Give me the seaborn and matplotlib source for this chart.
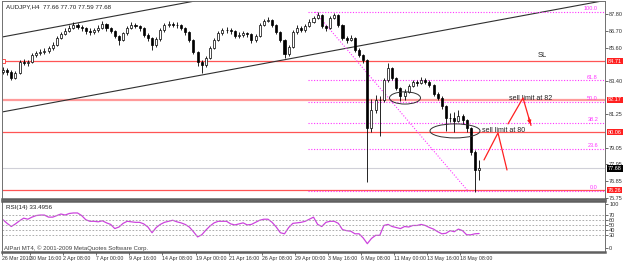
import matplotlib
matplotlib.use("Agg")
import matplotlib.pyplot as plt
import matplotlib.transforms as mtransforms
from matplotlib.patches import Ellipse
import numpy as np
import pandas as pd
import seaborn as sns

# ---------------- data (AUDJPY H4) ----------------
first_open = 84.00
close = [84.13, 84.00, 83.61, 83.94, 84.66, 84.59, 84.66, 85.11, 85.25, 85.31,
         85.38, 85.57, 85.77, 86.23, 86.49, 86.69, 86.88, 87.08, 86.95, 86.88,
         86.69, 86.62, 86.75, 86.88, 87.15, 86.88, 86.69, 86.36, 86.10, 86.56,
         86.88, 87.08, 87.01, 86.88, 86.42, 86.23, 85.77, 86.16, 86.75, 87.08,
         87.15, 87.08, 87.08, 86.88, 86.62, 86.10, 85.31, 84.66, 84.46, 84.92,
         85.57, 86.10, 86.56, 86.75, 86.75, 86.69, 86.36, 86.42, 86.56, 86.49,
         86.10, 86.36, 87.08, 87.34, 87.41, 87.08, 86.62, 86.10, 85.18, 85.64,
         86.62, 86.88, 86.75, 87.01, 87.28, 87.54, 87.73, 87.01, 86.88, 87.54,
         87.73, 87.08, 86.23, 86.10, 86.23, 85.44, 85.11, 84.79, 80.33, 81.51,
         82.17, 82.17, 83.48, 84.26, 83.61, 82.95, 82.43, 82.69, 83.08, 83.35,
         83.28, 83.48, 83.35, 83.15, 82.56, 82.30, 81.77, 80.99, 80.99, 80.79,
         81.12, 80.86, 80.33, 78.76, 77.58, 77.68]
high = [84.30, 84.25, 84.10, 84.05, 84.80, 84.85, 84.80, 85.25, 85.40, 85.50,
        85.55, 85.70, 85.95, 86.35, 86.65, 86.85, 87.05, 87.25, 87.20, 87.10,
        86.95, 86.85, 86.90, 87.05, 87.35, 87.20, 86.95, 86.75, 86.45, 86.65,
        87.00, 87.25, 87.20, 87.10, 86.95, 86.55, 86.30, 86.30, 86.85, 87.20,
        87.35, 87.30, 87.25, 87.15, 86.95, 86.70, 86.15, 85.40, 84.80, 85.05,
        85.70, 86.25, 86.70, 86.90, 86.95, 86.85, 86.75, 86.60, 86.70, 86.65,
        86.55, 86.50, 87.20, 87.50, 87.60, 87.50, 87.15, 86.70, 86.15, 85.80,
        86.75, 87.05, 87.00, 87.15, 87.45, 87.70, 87.93, 87.80, 87.10, 87.65,
        87.87, 87.80, 87.15, 86.35, 86.40, 86.30, 85.55, 85.20, 84.85, 82.20,
        82.50, 82.40, 83.60, 84.59, 84.30, 83.65, 83.00, 82.90, 83.20, 83.50,
        83.45, 83.65, 83.60, 83.45, 83.20, 82.70, 82.40, 81.85, 81.30, 81.40,
        81.51, 81.25, 80.95, 80.40, 78.90, 78.24]
low = [83.85, 83.80, 83.48, 83.52, 83.88, 84.45, 84.40, 84.60, 85.00, 85.10,
       85.15, 85.25, 85.45, 85.70, 86.15, 86.40, 86.60, 86.80, 86.80, 86.70,
       86.50, 86.45, 86.50, 86.65, 86.80, 86.70, 86.55, 86.20, 85.80, 86.00,
       86.45, 86.80, 86.85, 86.70, 86.30, 86.05, 85.44, 85.65, 86.05, 86.65,
       86.95, 86.95, 86.90, 86.75, 86.45, 85.95, 85.15, 84.40, 83.94, 84.35,
       84.85, 85.50, 86.00, 86.45, 86.55, 86.50, 86.20, 86.25, 86.30, 86.30,
       85.90, 85.95, 86.30, 87.00, 87.25, 86.95, 86.50, 85.95, 84.92, 85.05,
       85.55, 86.50, 86.60, 86.65, 86.95, 87.20, 87.45, 86.90, 86.70, 86.80,
       87.45, 86.95, 86.10, 85.90, 86.00, 85.30, 84.95, 84.60, 76.80, 80.10,
       81.30, 79.80, 82.05, 83.35, 83.50, 82.85, 82.10, 82.17, 82.60, 83.00,
       83.10, 83.20, 83.20, 83.00, 82.45, 82.15, 81.60, 80.14, 80.70, 80.10,
       80.70, 80.60, 80.10, 78.55, 76.14, 76.93]
rsi = [60, 53, 47, 52, 58, 63, 61, 65, 68, 69, 69, 65, 65, 68, 71, 69, 72, 73,
       73, 68, 60, 57, 57, 56, 58, 54, 51, 43, 46, 53, 57, 56, 55, 55, 52, 46,
       35, 45, 51, 55, 57, 59, 56, 54, 51, 46, 37, 27, 31, 40, 48, 54, 57, 57,
       57, 52, 50, 52, 54, 50, 51, 55, 59, 61, 61, 55, 46, 35, 33, 45, 53, 54,
       55, 57, 61, 65, 51, 47, 55, 57, 57, 53, 41, 39, 38, 33, 33, 25, 14, 24,
       30, 30, 49, 51, 47, 45, 43, 47, 46, 49, 49, 51, 49, 45, 42, 37, 33, 34,
       39, 37, 42, 39, 31, 31, 33, 33.5]

date_labels = ["26 Mar 2010", "30 Mar 16:00", "2 Apr 08:00", "7 Apr 00:00",
               "9 Apr 16:00", "14 Apr 08:00", "19 Apr 00:00", "21 Apr 16:00",
               "26 Apr 08:00", "29 Apr 00:00", "3 May 16:00", "6 May 08:00",
               "11 May 00:00", "13 May 16:00", "18 May 08:00"]
price_ticks = [87.80, 86.70, 85.60, 83.40, 81.25, 79.05, 77.95, 76.85, 75.75]
red_levels = [84.71, 82.17, 80.06, 76.26]
bid = 77.68
fib_high, fib_low = 87.93, 76.20
fib_ratios = [1.0, 0.618, 0.5, 0.382, 0.236, 0.0]
rsi_levels = [70, 60, 50, 40, 30]

# ---------------- frame ----------------
n = len(close)
idx = np.arange(n)
opn = [first_open] + close[:-1]
df = pd.DataFrame({"i": idx, "open": opn, "high": high, "low": low,
                   "close": close, "rsi": rsi})

sns.set_theme(style="white")
plt.rcParams["font.family"] = ["Liberation Sans", "DejaVu Sans"]

W, H = 625, 263
fig = plt.figure(figsize=(W / 100, H / 100), dpi=100)
fig.patch.set_facecolor("white")
ax = fig.add_axes([2 / W, 1 - 199 / H, 603 / W, 198 / H])
ax2 = fig.add_axes([2 / W, 1 - 252 / H, 603 / W, 51 / H], sharex=ax)

PX = 4.14  # px per bar
xmin = -1 / PX
xmax = 602 / PX
ax.set_xlim(xmin, xmax)
ax.set_ylim(75.68, 88.65)

def px2i(p):
    return (p - 3) / PX

FS = 4.0

# channel lines
ax.axline((px2i(2), 81.38), (px2i(597), 88.59), color="#303030", lw=0.8, zorder=2)
ax.axline((px2i(2), 86.29), (px2i(190), 88.59), color="#303030", lw=0.8, zorder=2)

# red horizontal levels
for lv in red_levels:
    lw = 1.6 if lv == 82.17 else 0.9
    col = "#FF9A9A" if lv == 82.17 else "#FF5555"
    ax.axhline(lv, color=col, lw=lw, zorder=1)
ax.axhline(bid, color="#D0D0D8", lw=0.8, zorder=1)
ax.plot([px2i(3)], [84.71], marker="s", ms=2.5, mfc="white", mec="#FF3333", mew=0.6)

# fibonacci
fx0 = px2i(308)
for r in fib_ratios:
    lv = fib_low + r * (fib_high - fib_low)
    ax.plot([fx0, xmax], [lv, lv], color="#FF33FF", lw=0.8, ls=(0, (1, 1.5)), zorder=2)
    ax.text(px2i(598), lv + 0.05, f"{r*100:.1f}", color="#FF33FF", fontsize=FS,
            ha="right", va="bottom", zorder=5)
ax.plot([px2i(315), px2i(468)], [fib_high, fib_low], color="#FF33FF", lw=0.8,
        ls=(0, (1, 1.5)), zorder=2)

# candles
up = df["close"] >= df["open"]
ax.vlines(df["i"], df["low"], df["high"], color="black", lw=0.6, zorder=3)
body_lo = np.minimum(df["open"], df["close"])
body_h = np.maximum(np.abs(df["close"] - df["open"]), 0.02)
ax.bar(df["i"][up], body_h[up], bottom=body_lo[up], width=0.5,
       color="white", edgecolor="black", lw=0.5, zorder=4)
ax.bar(df["i"][~up], body_h[~up], bottom=body_lo[~up], width=0.5,
       color="black", edgecolor="black", lw=0.5, zorder=4)

# ellipses
ax.add_patch(Ellipse((px2i(405), 82.30), 31 / PX, 0.80, fill=False,
                     ec="#303030", lw=0.7, zorder=5))
ax.add_patch(Ellipse((px2i(455), 80.14), 50 / PX, 0.92, fill=False,
                     ec="#303030", lw=0.7, zorder=5))

# annotations
ax.text(px2i(538), 85.11, "SL", fontsize=5.5, color="#202020", va="center")
ax.text(px2i(509), 82.25, "sell limit at 82", fontsize=5.0, color="#202020", va="center")
ax.text(px2i(482), 80.14, "sell limit at 80", fontsize=5.0, color="#202020", va="center")
ax.plot([px2i(484), px2i(498), px2i(507)], [78.24, 80.01, 77.58],
        color="#FF2020", lw=0.9, zorder=5)
ax.plot([px2i(508), px2i(523), px2i(531)], [80.60, 82.30, 80.50],
        color="#FF2020", lw=0.9, zorder=5)
ax.annotate("", xy=(px2i(531), 80.40), xytext=(px2i(528), 81.20),
            arrowprops=dict(arrowstyle="-|>", color="#FF2020", lw=0.9,
                            mutation_scale=5))

ax.text(4 / 603, 1 - 6 / 198, "AUDJPY,H4  77.66 77.70 77.59 77.68",
        transform=ax.transAxes, fontsize=4.5, color="#202020", va="center")

# right price axis
ax.yaxis.tick_right()
ax.set_yticks(price_ticks)
ax.set_yticklabels([f"{v:.2f}" for v in price_ticks])
ax.tick_params(axis="y", labelsize=FS, length=2, pad=1, colors="#303030",
               direction="out", right=True, left=False, width=0.5)
ax.tick_params(axis="x", bottom=False, labelbottom=False)
tr = mtransforms.blended_transform_factory(ax.transAxes, ax.transData)
for lv in red_levels:
    ax.text(1.005, lv, f"{lv:.2f}", transform=tr, fontsize=FS, color="white",
            va="center", ha="left", zorder=10, clip_on=False,
            bbox=dict(boxstyle="square,pad=0.12", fc="#FF2020", ec="none"))
ax.text(1.005, bid, f"{bid:.2f}", transform=tr, fontsize=FS, color="white",
        va="center", ha="left", zorder=10, clip_on=False,
        bbox=dict(boxstyle="square,pad=0.12", fc="black", ec="none"))

for s in ["left", "top", "right"]:
    ax.spines[s].set_color("#707070")
    ax.spines[s].set_linewidth(0.7)
ax.spines["bottom"].set_color("#606060")
ax.spines["bottom"].set_linewidth(1.8)

# ---------------- RSI ----------------
sns.lineplot(data=df, x="i", y="rsi", ax=ax2, color="#CC44DD", lw=0.9)
for lv in rsi_levels:
    ax2.axhline(lv, color="#A0A0A0", lw=0.6, ls=(0, (2, 2)))
ax2.set_ylim(-2, 96)
ax2.yaxis.tick_right()
ax2.set_yticks([90] + rsi_levels + [6])
ax2.set_yticklabels(["100"] + [str(v) for v in rsi_levels] + ["0"])
ax2.tick_params(axis="y", labelsize=FS, length=2, pad=1, colors="#303030",
                right=True, left=False, width=0.5)
ax2.set_xlabel("")
ax2.set_ylabel("")
ax2.text(4 / 603, 0.88, "RSI(14) 33.4956", transform=ax2.transAxes,
         fontsize=4.5, color="#202020", va="center")
ax2.text(2 / 603, 0.02, "AlPari MT4, \u00a9 2001-2009 MetaQuotes Software Corp.",
         transform=ax2.transAxes, fontsize=4.3, color="#404040", va="bottom")
for s in ["left", "right"]:
    ax2.spines[s].set_color("#707070")
    ax2.spines[s].set_linewidth(0.7)
for s in ["top", "bottom"]:
    ax2.spines[s].set_color("#606060")
    ax2.spines[s].set_linewidth(1.8)

tick_pos = [px2i(2)] + [6.5 + 8 * k for k in range(len(date_labels) - 1)]
ax2.set_xticks(tick_pos)
ax2.set_xticklabels(date_labels)
ax2.tick_params(axis="x", labelsize=3.8, length=2, pad=1, colors="#303030",
                bottom=True, width=0.5)
for lab in ax2.get_xticklabels():
    lab.set_horizontalalignment("left")
ax2.set_xlim(xmin, xmax)

fig.savefig("out.png", dpi=100, facecolor="white")
